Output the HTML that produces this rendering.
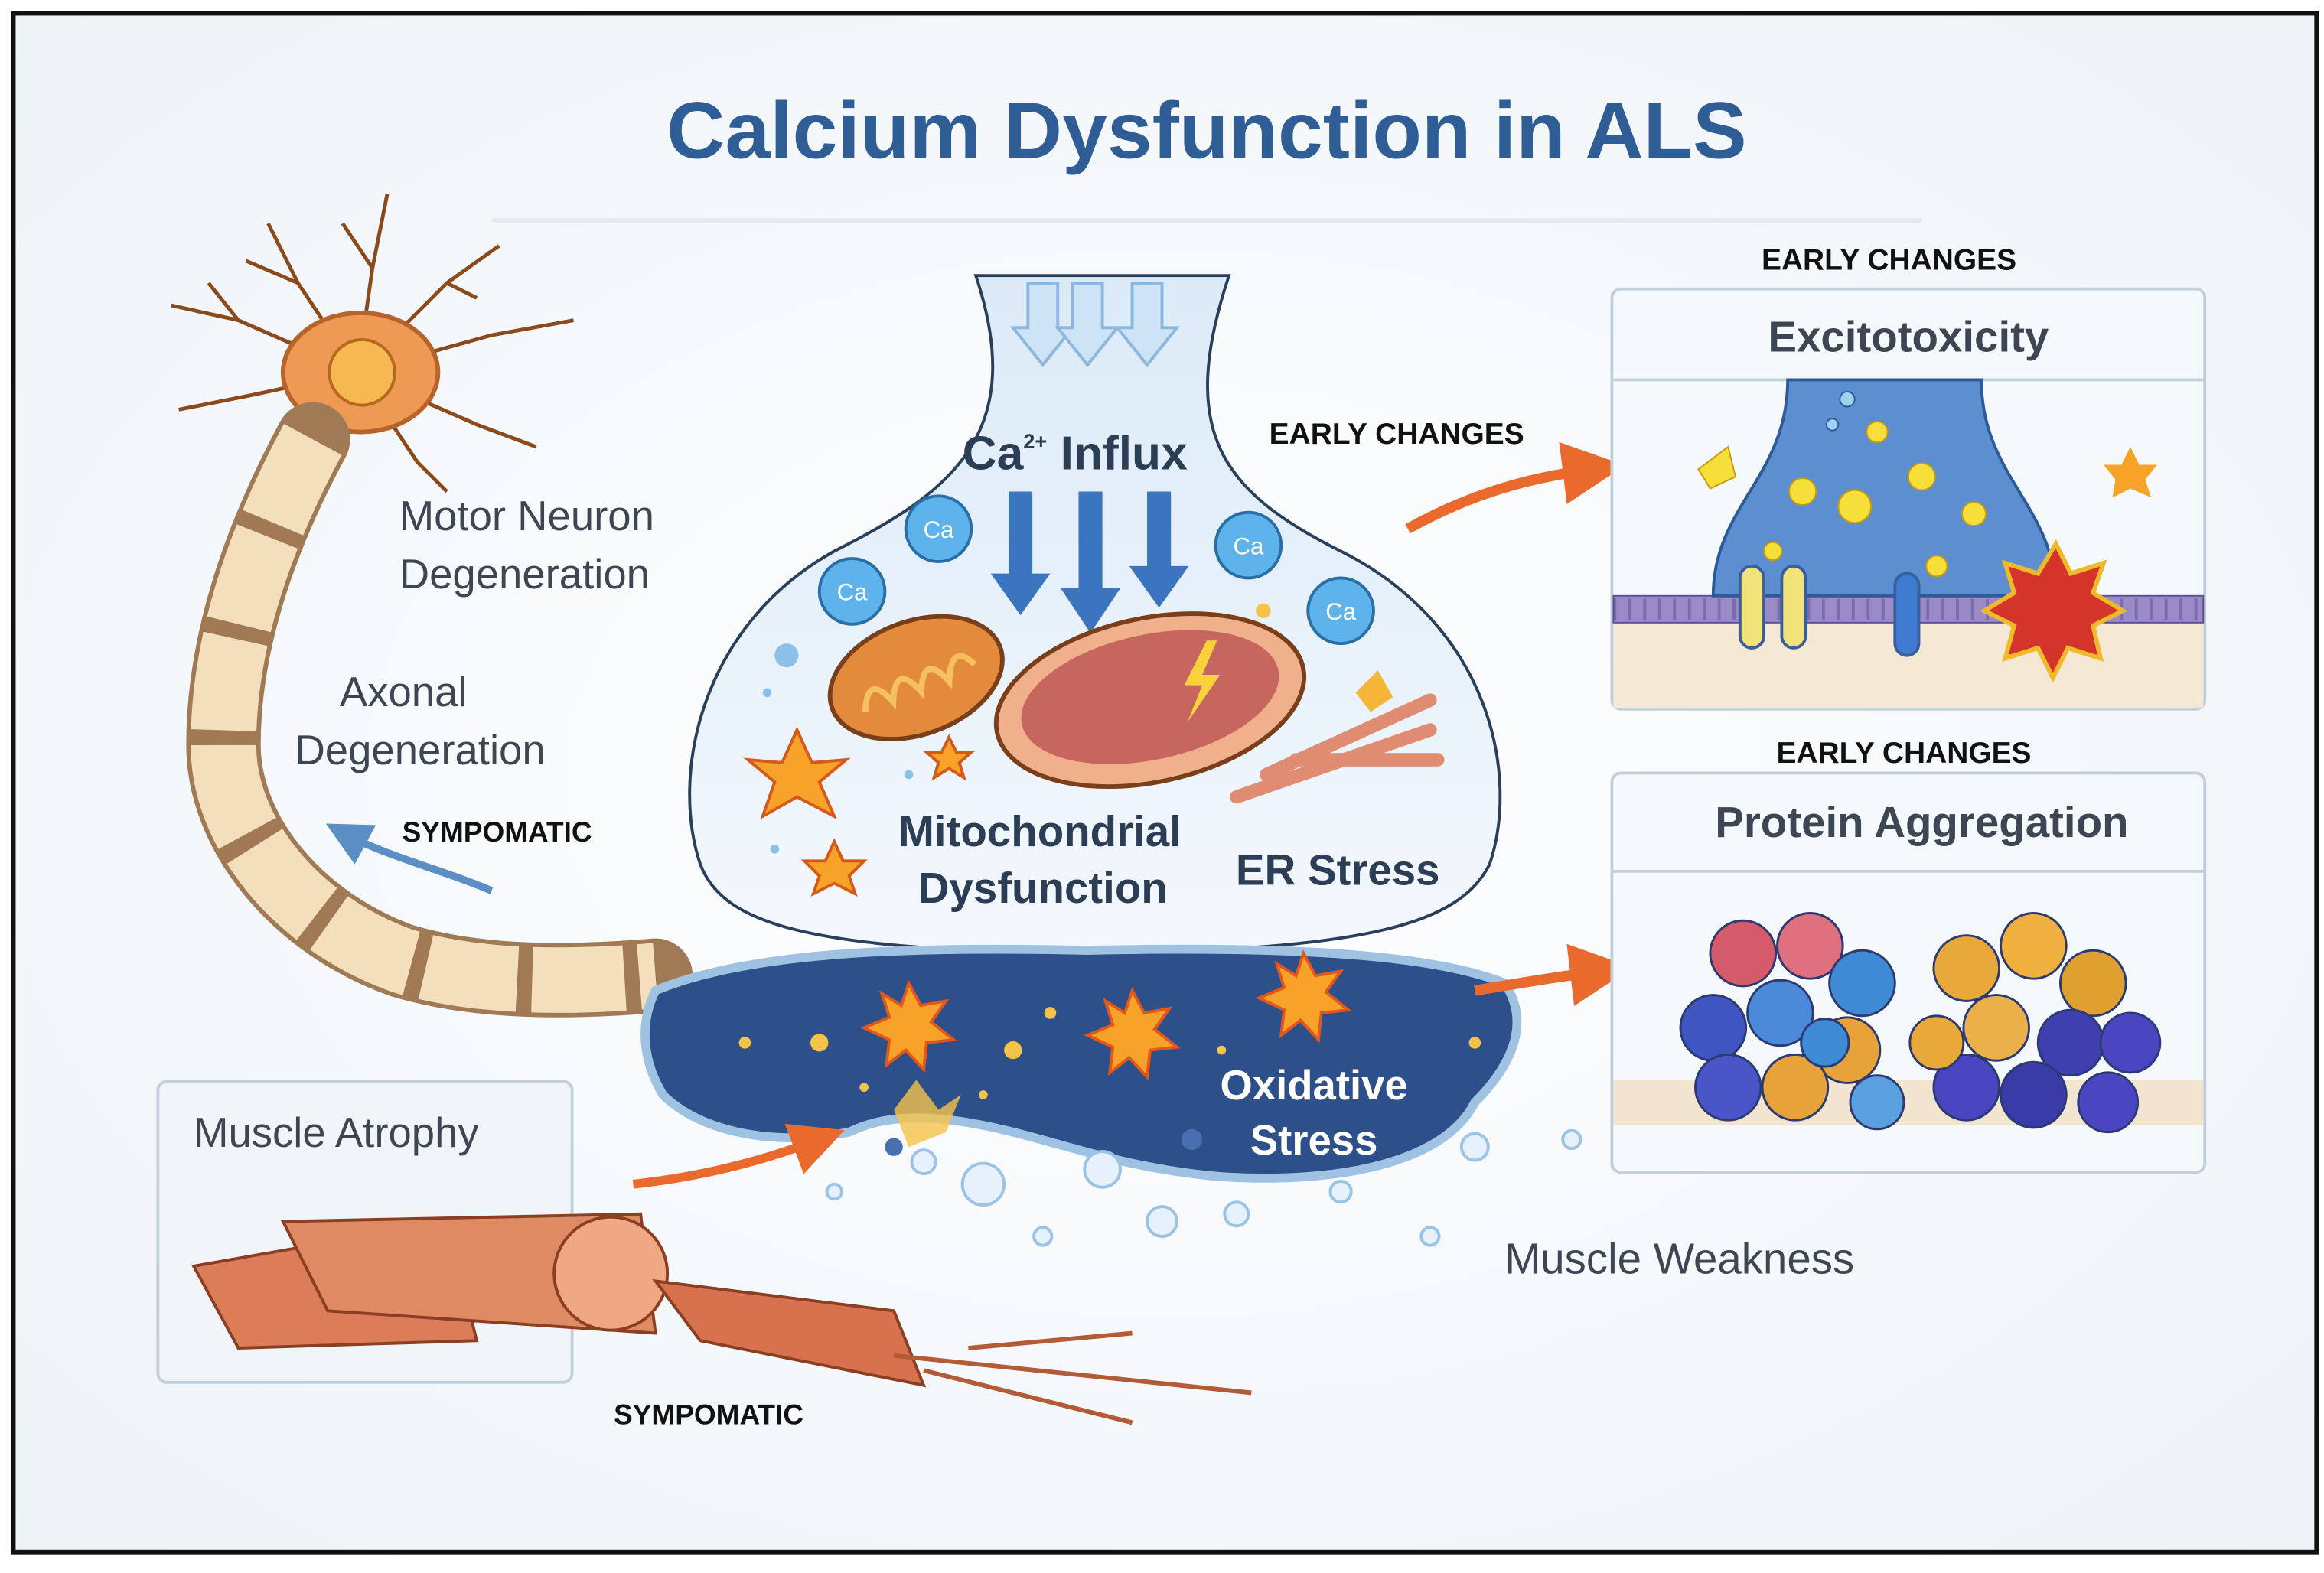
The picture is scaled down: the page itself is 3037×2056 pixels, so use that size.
<!DOCTYPE html>
<html><head><meta charset="utf-8"><style>
html,body{margin:0;padding:0;background:#fff}
svg{display:block}
text{font-family:"Liberation Sans",sans-serif}
</style></head><body>
<svg width="3037" height="2056" viewBox="0 0 1560 1056" preserveAspectRatio="none" xmlns="http://www.w3.org/2000/svg">
<defs>
<radialGradient id="bg" cx="50%" cy="50%" r="70%"><stop offset="0" stop-color="#ffffff"/><stop offset="1" stop-color="#eef3f8"/></radialGradient>
<linearGradient id="flask" x1="0" y1="0" x2="0" y2="1"><stop offset="0" stop-color="#dceaf7"/><stop offset="1" stop-color="#f3f8fd"/></linearGradient>
<marker id="oa" markerWidth="6" markerHeight="6" refX="3" refY="3" orient="auto"><path d="M0,0 L6,3 L0,6 z" fill="#ea6a2e"/></marker>
<marker id="ba" markerWidth="6" markerHeight="6" refX="3" refY="3" orient="auto"><path d="M0,0 L6,3 L0,6 z" fill="#5b8ec4"/></marker>
</defs>
<rect x="0" y="0" width="1560" height="1056" fill="#fff"/>
<rect x="9" y="9" width="1546" height="1033" fill="url(#bg)" stroke="#111" stroke-width="3"/>
<text x="810" y="106" text-anchor="middle" font-size="54" font-weight="bold" fill="#2f5e97" textLength="725" lengthAdjust="spacingAndGlyphs">Calcium Dysfunction in ALS</text>
<line x1="330" y1="148" x2="1290" y2="148" stroke="#e3eaf1" stroke-width="3"/>

<!-- neuron soma -->
<g stroke="#8a4a1c" stroke-width="2.5" fill="none">
<path d="M240 250 L200 190 L180 150 M200 190 L165 175 M240 250 L160 215 L115 205 M160 215 L140 190 M240 250 L170 265 L120 275 M240 250 L250 180 L260 130 M250 180 L230 150 M240 250 L300 190 L335 165 M300 190 L320 200 M240 250 L330 225 L385 215 M240 250 L320 285 L360 300 M240 250 L280 310 L300 330"/>
</g>
<ellipse cx="242" cy="250" rx="52" ry="40" fill="#ee9a55" stroke="#b8632a" stroke-width="3"/>
<circle cx="243" cy="250" r="22" fill="#f7b851" stroke="#b46a1c" stroke-width="2"/>
<!-- axon -->
<path d="M210 295 C175 360 150 430 150 500 C150 560 200 620 270 645 C320 660 380 660 440 655" fill="none" stroke="#a07a55" stroke-width="50" stroke-linecap="round"/>
<path d="M210 295 C175 360 150 430 150 500 C150 560 200 620 270 645 C320 660 380 660 440 655" fill="none" stroke="#f4dfbd" stroke-width="44" stroke-dasharray="62 10"/>

<!-- flask -->
<path d="M655 185 C690 290 640 330 560 370 C470 420 450 520 470 580 C485 620 540 638 730 640 C920 638 980 620 1000 580 C1020 520 1000 420 900 370 C820 330 790 290 825 185 Z" fill="url(#flask)" stroke="#2a3f5c" stroke-width="2"/>
<!-- dark blob -->
<path d="M440 665 C500 640 600 635 730 638 C860 635 960 640 1010 660 C1030 690 1010 720 990 740 C970 780 900 795 820 790 C760 785 720 770 680 760 C640 750 600 745 570 760 C520 770 470 760 445 735 C430 710 430 685 440 665 Z" fill="#2d4f8a" stroke="#9fc2e3" stroke-width="6"/>
<g fill="#f5c34a"><circle cx="500" cy="700" r="4"/><circle cx="550" cy="700" r="6"/><circle cx="680" cy="705" r="6"/><circle cx="705" cy="680" r="4"/><circle cx="820" cy="705" r="3"/><circle cx="990" cy="700" r="4"/><circle cx="580" cy="730" r="3"/><circle cx="660" cy="735" r="3"/></g>
<g fill="#4a6fb0"><circle cx="600" cy="770" r="6"/><circle cx="800" cy="765" r="7"/></g>
<!-- bubbles -->
<g fill="#e6f1fb" stroke="#9ac3e6" stroke-width="2">
<circle cx="660" cy="795" r="14"/><circle cx="740" cy="785" r="12"/><circle cx="780" cy="820" r="10"/><circle cx="620" cy="780" r="8"/><circle cx="830" cy="815" r="8"/><circle cx="900" cy="800" r="7"/><circle cx="990" cy="770" r="9"/><circle cx="700" cy="830" r="6"/><circle cx="960" cy="830" r="6"/><circle cx="1055" cy="765" r="6"/><circle cx="560" cy="800" r="5"/>
</g>
<!-- influx arrows -->
<g fill="#cfe3f6" stroke="#8bb7e0" stroke-width="2">
<path d="M690 190 h20 v30 h10 l-20 25 l-20 -25 h10z"/><path d="M720 190 h20 v30 h10 l-20 25 l-20 -25 h10z"/><path d="M760 190 h20 v30 h10 l-20 25 l-20 -25 h10z"/>
</g>
<g fill="#3c75bf">
<path d="M677 330 h16 v55 h12 l-20 28 l-20 -28 h12z"/><path d="M724 330 h16 v65 h12 l-20 30 l-20 -30 h12z"/><path d="M770 330 h16 v50 h12 l-20 28 l-20 -28 h12z"/>
</g>
<text x="646" y="315" font-size="32" font-weight="bold" fill="#2c3e55">Ca<tspan font-size="14" dy="-14">2+</tspan><tspan dy="14"> Influx</tspan></text>
<g fill="#5db3ea" stroke="#2a6ea6" stroke-width="2">
<circle cx="630" cy="355" r="22"/><circle cx="572" cy="397" r="22"/><circle cx="838" cy="366" r="22"/><circle cx="900" cy="410" r="22"/>
</g>
<g font-size="16" fill="#fff" text-anchor="middle"><text x="630" y="361">Ca</text><text x="572" y="403">Ca</text><text x="838" y="372">Ca</text><text x="900" y="416">Ca</text></g>
<g fill="#8cc0e8"><circle cx="528" cy="440" r="8"/><circle cx="515" cy="465" r="3"/><circle cx="610" cy="520" r="3"/><circle cx="520" cy="570" r="3"/></g>
<circle cx="848" cy="410" r="5" fill="#f5c34a"/>
<!-- mitochondria -->
<ellipse cx="615" cy="455" rx="60" ry="38" transform="rotate(-20 615 455)" fill="#e38a3c" stroke="#7a3e1a" stroke-width="3"/>
<path d="M575 465 q10 -25 20 0 q10 -25 20 0 q10 -25 20 0 q10 -25 20 -5" fill="none" stroke="#f5c060" stroke-width="4" transform="rotate(-20 615 455)"/>
<ellipse cx="772" cy="470" rx="105" ry="55" transform="rotate(-12 772 470)" fill="#f0b08c" stroke="#7a3e1a" stroke-width="3"/>
<ellipse cx="772" cy="468" rx="88" ry="42" transform="rotate(-12 772 468)" fill="#c7665e"/>
<path d="M810 430 l-15 30 h12 l-10 25 l22 -32 h-12 l10 -23z" fill="#f7d23a"/>
<g stroke="#e08c70" stroke-width="9" stroke-linecap="round"><line x1="830" y1="535" x2="960" y2="490"/><line x1="850" y1="520" x2="960" y2="470"/><line x1="870" y1="510" x2="965" y2="510"/></g>
<polygon points="910,465 925,450 935,468 920,478" fill="#f5b638"/>
<g fill="#f7a32a" stroke="#d45a1a" stroke-width="2"><polygon points="535,490 545,512 568,510 550,525 560,548 535,535 512,548 520,525 502,510 525,512"/><polygon points="560,565 566,578 580,578 570,588 574,600 560,593 546,600 550,588 540,578 554,578"/><polygon points="637,495 642,505 652,505 644,512 647,522 637,516 627,522 630,512 622,505 632,505"/></g>
<text x="698" y="568" text-anchor="middle" font-size="29" font-weight="bold" fill="#2c3e55">Mitochondrial</text>
<text x="700" y="606" text-anchor="middle" font-size="29" font-weight="bold" fill="#2c3e55">Dysfunction</text>
<text x="898" y="594" text-anchor="middle" font-size="29" font-weight="bold" fill="#2c3e55">ER Stress</text>
<g fill="#f7a32a" stroke="#e2571c" stroke-width="2"><polygon points="610,660 618,675 635,672 625,686 640,698 622,700 620,718 608,705 595,715 597,698 580,690 597,683 592,667 605,675"/><polygon points="760,665 768,680 785,677 775,691 790,703 772,705 770,723 758,710 745,720 747,703 730,695 747,688 742,672 755,680"/><polygon points="875,640 883,655 900,652 890,666 905,678 887,680 885,698 873,685 860,695 862,678 845,670 862,663 857,647 870,655"/></g>
<polygon points="600,745 615,725 630,745 645,735 635,760 610,770" fill="#f5c34a" opacity="0.8"/>
<text x="882" y="738" text-anchor="middle" font-size="28" font-weight="bold" fill="#fff">Oxidative</text>
<text x="882" y="775" text-anchor="middle" font-size="28" font-weight="bold" fill="#fff">Stress</text>

<!-- left labels -->
<g font-size="28" fill="#3d4652"><text x="268" y="356">Motor Neuron</text><text x="268" y="395">Degeneration</text><text x="228" y="474">Axonal</text><text x="198" y="513">Degeneration</text></g>
<text x="270" y="565" font-size="19" font-weight="bold" fill="#111">SYMPOMATIC</text>
<path d="M330 598 C300 585 260 575 232 560" fill="none" stroke="#5b8ec4" stroke-width="5" marker-end="url(#ba)"/>

<!-- muscle atrophy -->
<rect x="106" y="726" width="278" height="202" rx="6" fill="#f1f5f9" stroke="#c3d0dc" stroke-width="2"/>
<text x="130" y="770" font-size="28" fill="#3d4652">Muscle Atrophy</text>
<g stroke="#8a3e22" stroke-width="2">
<path d="M130 850 L300 820 L320 900 L160 905 Z" fill="#dc7c58"/>
<path d="M190 820 L430 815 L440 895 L220 880 Z" fill="#e08a64"/>
<circle cx="410" cy="855" r="38" fill="#f0a884"/>
<path d="M440 860 L600 880 L620 930 L470 900 Z" fill="#d7714e"/>
</g>
<path d="M600 910 L840 935 M620 920 L760 955 M650 905 L760 895" stroke="#b35a36" stroke-width="3" fill="none"/>
<text x="412" y="956" font-size="19" font-weight="bold" fill="#111">SYMPOMATIC</text>
<path d="M425 795 C470 790 510 780 550 765" fill="none" stroke="#ea6a2e" stroke-width="6" marker-end="url(#oa)"/>
<text x="1010" y="855" font-size="29" fill="#3d4652">Muscle Weakness</text>

<!-- early changes arrows -->
<text x="852" y="298" font-size="20" font-weight="bold" fill="#111">EARLY CHANGES</text>
<path d="M945 355 C990 330 1030 320 1070 315" fill="none" stroke="#ea6a2e" stroke-width="7" marker-end="url(#oa)"/>
<path d="M990 665 C1020 660 1050 655 1075 652" fill="none" stroke="#ea6a2e" stroke-width="7" marker-end="url(#oa)"/>

<!-- excitotoxicity box -->
<text x="1268" y="181" text-anchor="middle" font-size="20" font-weight="bold" fill="#111">EARLY CHANGES</text>
<rect x="1082" y="194" width="398" height="282" rx="6" fill="#f6f9fc" stroke="#c3d0dc" stroke-width="2"/>
<line x1="1082" y1="255" x2="1480" y2="255" stroke="#c3d0dc" stroke-width="2"/>
<text x="1281" y="236" text-anchor="middle" font-size="29" font-weight="bold" fill="#3d4652">Excitotoxicity</text>
<rect x="1083" y="415" width="396" height="60" fill="#f5e8d4"/>
<rect x="1083" y="400" width="396" height="18" fill="#9a8ac8" stroke="#5d4f90"/>
<path d="M1083 409 H1479" stroke="#5d4f90" stroke-width="14" stroke-dasharray="2 8" opacity="0.5"/>
<path d="M1200 255 C1200 320 1150 340 1150 400 L1380 400 C1380 340 1330 320 1330 255 Z" fill="#5d8fd0" stroke="#2d5a9a" stroke-width="2"/>
<g fill="#f7df3a" stroke="#c59b10"><circle cx="1210" cy="330" r="9"/><circle cx="1245" cy="340" r="11"/><circle cx="1290" cy="320" r="9"/><circle cx="1325" cy="345" r="8"/><circle cx="1260" cy="290" r="7"/><circle cx="1300" cy="380" r="7"/><circle cx="1190" cy="370" r="6"/></g>
<g fill="#9fd0f0" stroke="#2d5a9a"><circle cx="1240" cy="268" r="5"/><circle cx="1230" cy="285" r="4"/></g>
<polygon points="1140,315 1160,300 1165,320 1148,328" fill="#f7df3a" stroke="#c59b10"/>
<g fill="#f2e27a" stroke="#3a5fa0" stroke-width="2"><rect x="1168" y="380" width="16" height="55" rx="8"/><rect x="1196" y="380" width="16" height="55" rx="8"/><rect x="1272" y="385" width="16" height="55" rx="8" fill="#3d7bd0"/></g>
<polygon points="1380,365 1390,385 1412,378 1405,398 1425,410 1405,420 1410,442 1388,435 1378,455 1368,435 1346,442 1352,420 1332,410 1352,398 1346,378 1368,385" fill="#d4342a" stroke="#f0b92a" stroke-width="3"/>
<polygon points="1430,300 1436,312 1448,312 1440,322 1444,334 1430,328 1418,334 1420,322 1412,312 1424,312" fill="#f7a32a"/>

<!-- protein aggregation box -->
<text x="1278" y="512" text-anchor="middle" font-size="20" font-weight="bold" fill="#111">EARLY CHANGES</text>
<rect x="1082" y="519" width="398" height="268" rx="6" fill="#f6f9fc" stroke="#c3d0dc" stroke-width="2"/>
<line x1="1082" y1="585" x2="1480" y2="585" stroke="#c3d0dc" stroke-width="2"/>
<text x="1290" y="562" text-anchor="middle" font-size="29" font-weight="bold" fill="#3d4652">Protein Aggregation</text>
<rect x="1083" y="725" width="396" height="30" fill="#f3e4cf"/>
<g stroke="#2b3a70" stroke-width="1.5">
<circle cx="1170" cy="640" r="22" fill="#d55a6a"/><circle cx="1215" cy="635" r="22" fill="#e07080"/><circle cx="1250" cy="660" r="22" fill="#3f8ad4"/><circle cx="1150" cy="690" r="22" fill="#3f55c0"/><circle cx="1195" cy="680" r="22" fill="#4a8ad8"/><circle cx="1240" cy="705" r="22" fill="#e8a23a"/><circle cx="1160" cy="730" r="22" fill="#4a55c8"/><circle cx="1205" cy="730" r="22" fill="#e8a23a"/><circle cx="1260" cy="740" r="18" fill="#5aa0e0"/><circle cx="1225" cy="700" r="16" fill="#3f8ad4"/>
<circle cx="1320" cy="650" r="22" fill="#e8a83a"/><circle cx="1365" cy="635" r="22" fill="#f0b040"/><circle cx="1405" cy="660" r="22" fill="#e0a030"/><circle cx="1340" cy="690" r="22" fill="#eab04a"/><circle cx="1390" cy="700" r="22" fill="#3f3fb0"/><circle cx="1430" cy="700" r="20" fill="#4a45c0"/><circle cx="1320" cy="730" r="22" fill="#4a45c0"/><circle cx="1365" cy="735" r="22" fill="#3a3aa8"/><circle cx="1415" cy="740" r="20" fill="#4a45c0"/><circle cx="1300" cy="700" r="18" fill="#e8a83a"/>
</g>
</svg>
</body></html>
